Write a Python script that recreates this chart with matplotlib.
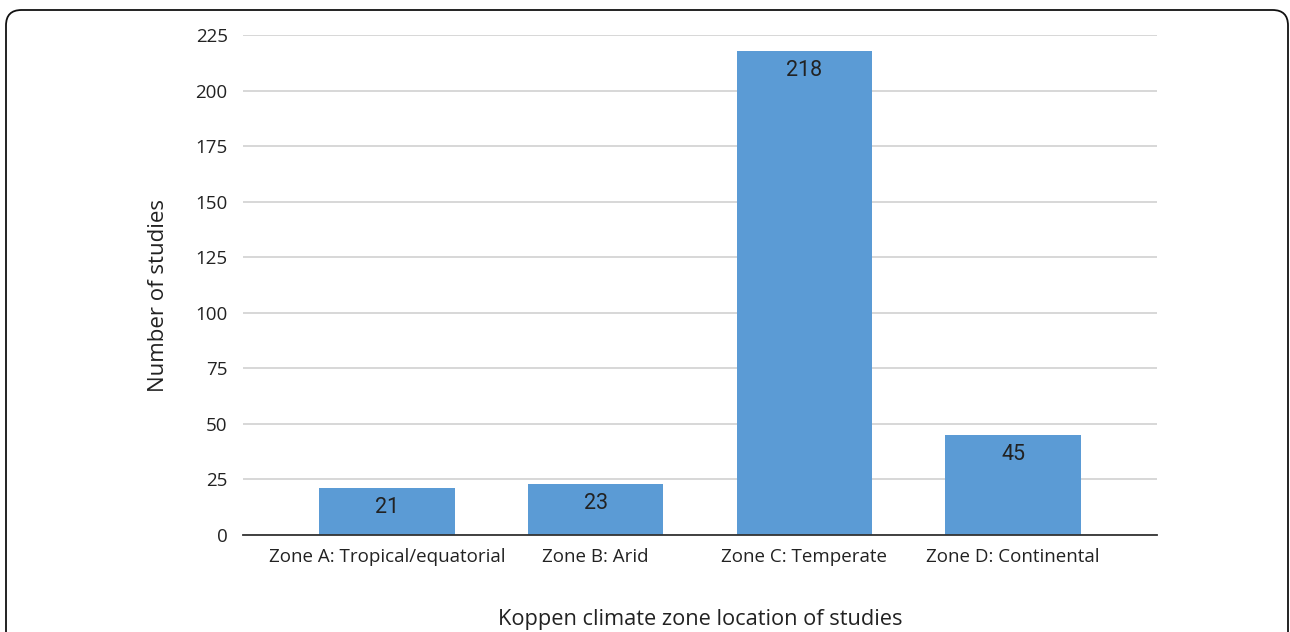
import matplotlib.pyplot as plt
from matplotlib.patches import FancyBboxPatch

# data
zones = ["Zone A: Tropical/equatorial", "Zone B: Arid", "Zone C: Temperate", "Zone D: Continental"]
studies = [21, 23, 218, 45]
yticks = [0, 25, 50, 75, 100, 125, 150, 175, 200, 225]

plt.rcParams['font.family'] = ['Open Sans', 'DejaVu Sans']

fig = plt.figure(figsize=(12.9, 6.32), dpi=100)
ax = fig.add_axes([243 / 1290, 1 - 535 / 632, (1157 - 243) / 1290, 500 / 632])

x = range(len(zones))
bars = ax.bar(x, studies, width=0.65, color="#5b9bd5", zorder=3)

# value labels just inside the top of each bar
for b, v in zip(bars, studies):
    ax.annotate(str(v), (b.get_x() + b.get_width() / 2, v), xytext=(0, -6.5),
                textcoords="offset points", ha="center", va="top",
                fontsize=15.5, color="#222222", family="Roboto", zorder=4)

ax.set_xlim(-0.69, 3.69)
ax.set_ylim(0, 225)
ax.set_yticks(yticks)
ax.set_xticks(list(x))
ax.set_xticklabels(zones)
ax.tick_params(axis="both", length=0, labelsize=13.5, colors="#222222")
ax.tick_params(axis="y", pad=11)
ax.tick_params(axis="x", pad=9)
ax.grid(axis="y", color="#d4d4d4", linewidth=1.3, zorder=0)
for s in ["top", "right", "left"]:
    ax.spines[s].set_visible(False)
ax.spines["bottom"].set_color("#333333")
ax.spines["bottom"].set_linewidth(1.3)
ax.spines["bottom"].set_zorder(5)

ax.set_ylabel("Number of studies", fontsize=16, color="#222222", labelpad=19)
ax.yaxis.label.set_y(0.478)
ax.set_xlabel("Koppen climate zone location of studies", fontsize=15.7,
              color="#222222", labelpad=31)

# rounded frame around the figure (open at the bottom)
frame = FancyBboxPatch((6 / 1290, -0.1), (1288 - 6) / 1290, 0.1 + 622 / 632,
                       boxstyle="round,pad=0,rounding_size=0.012",
                       transform=fig.transFigure, fill=False,
                       edgecolor="#111111", linewidth=1.3, mutation_aspect=1290 / 632)
fig.patches.append(frame)

fig.savefig("out.png", dpi=100)
